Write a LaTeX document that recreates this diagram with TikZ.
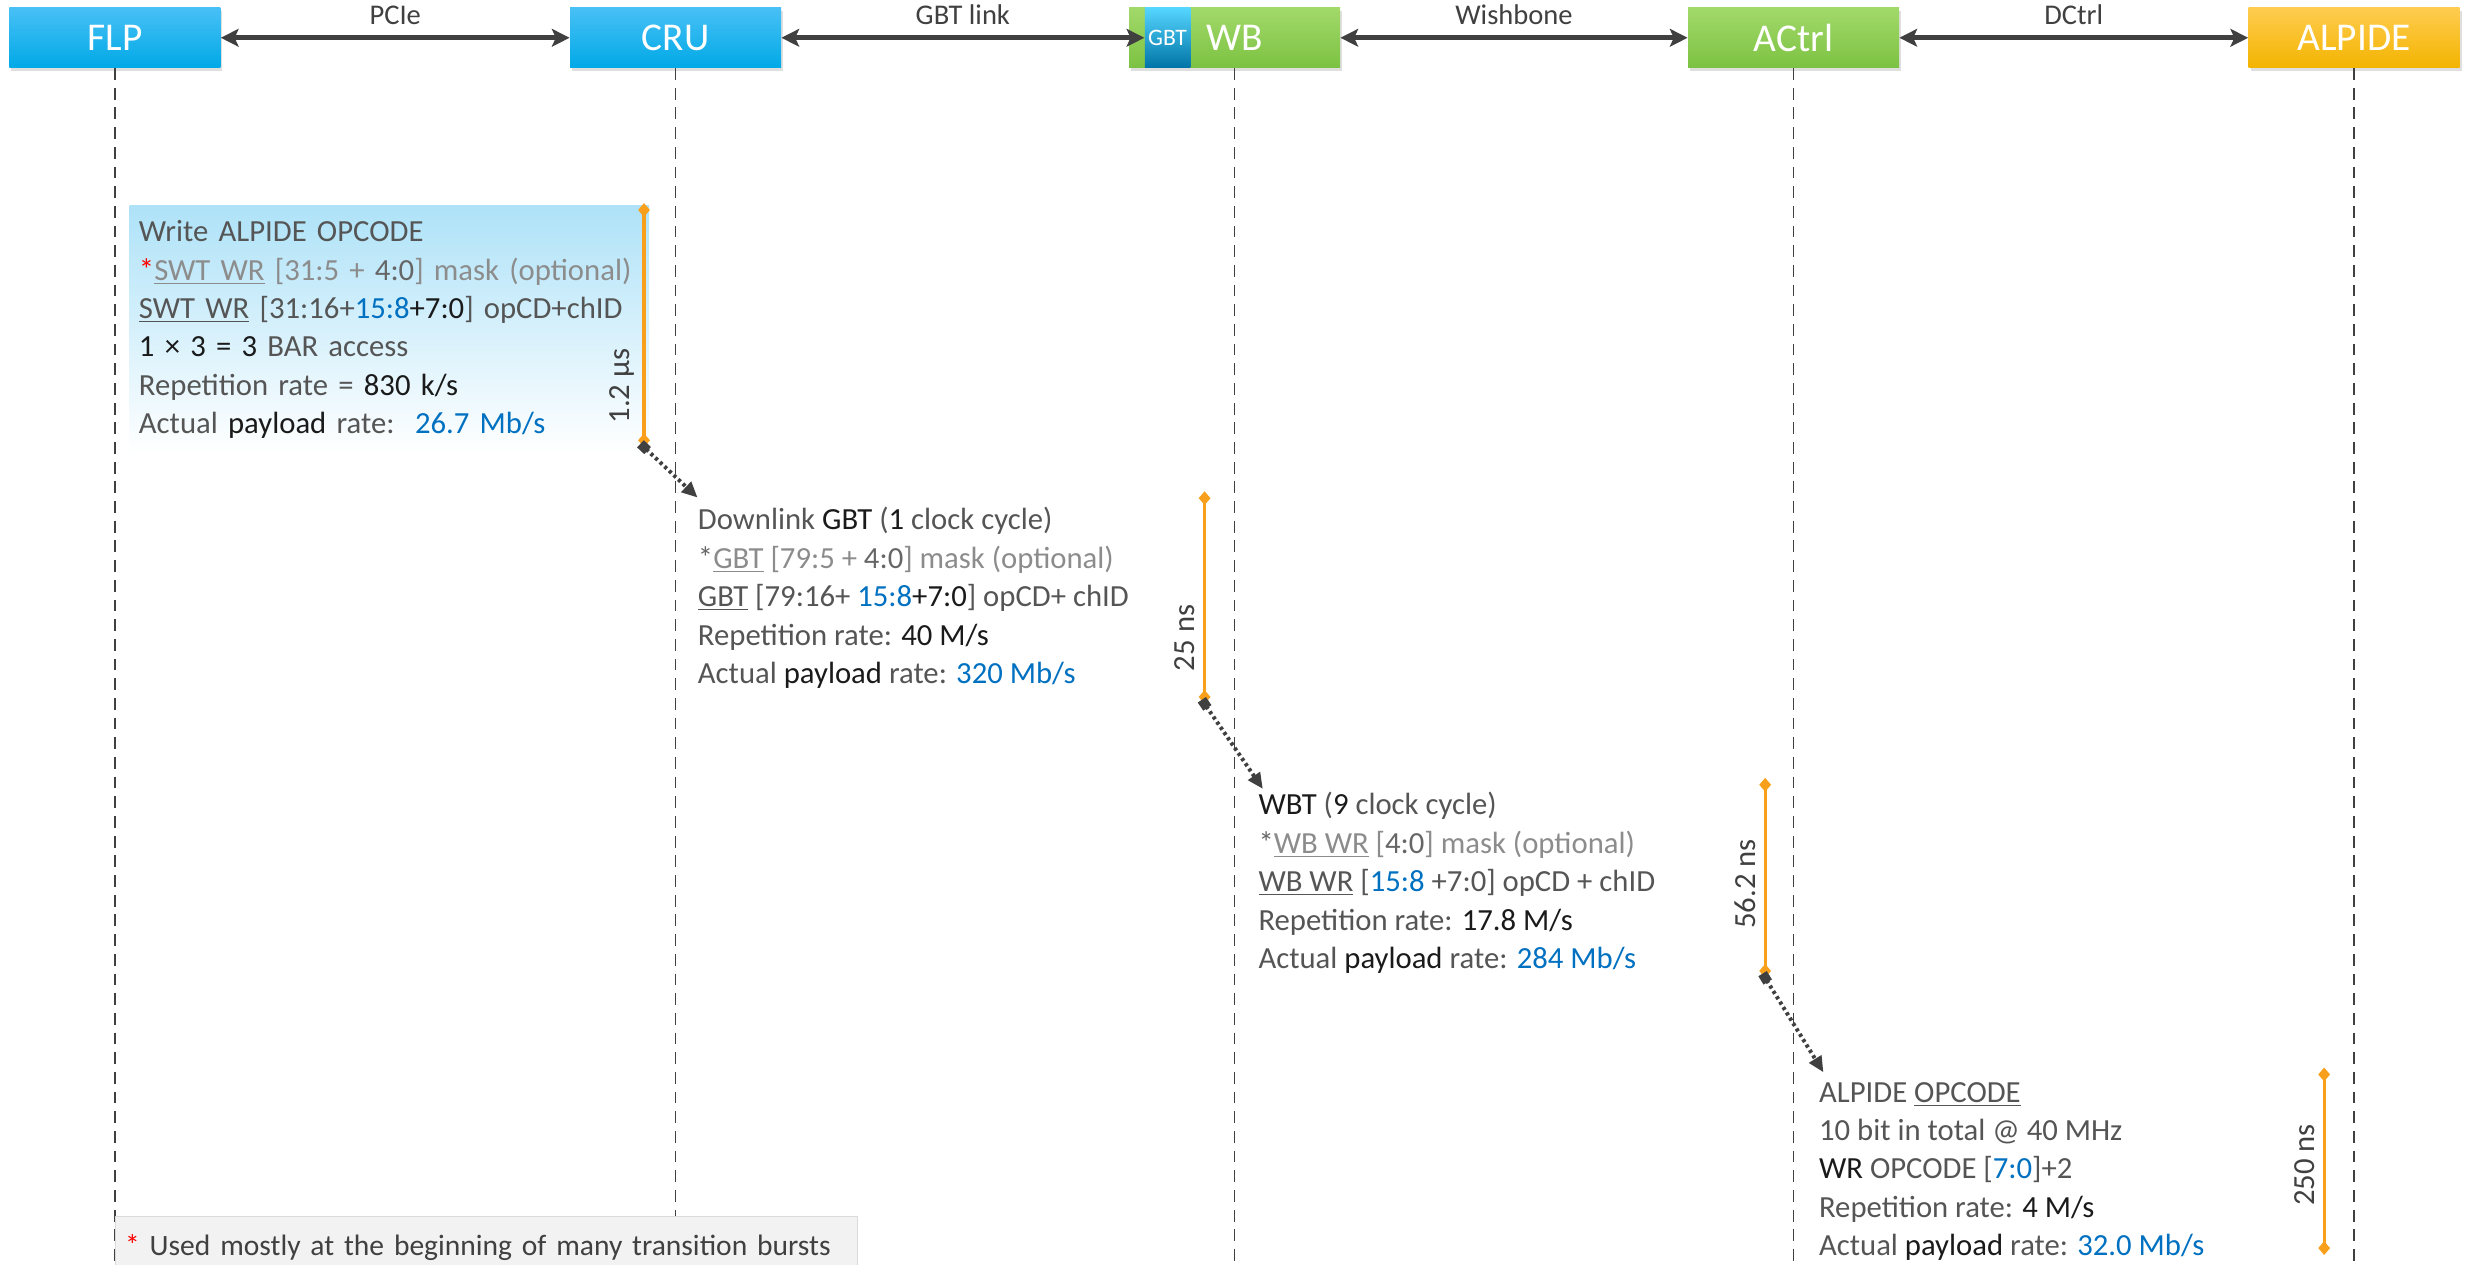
\documentclass[tikz,border=0pt]{standalone}
\usepackage{fontspec}
\setmainfont{Carlito}
\usepackage{xcolor}
\usetikzlibrary{arrows.meta,positioning,calc,shadows}

\definecolor{blueTop}{HTML}{48C0F6}
\definecolor{blueBot}{HTML}{00A9E6}
\definecolor{greenTop}{HTML}{A2D96A}
\definecolor{greenBot}{HTML}{7CC242}
\definecolor{orangeTop}{HTML}{FFCC50}
\definecolor{orangeBot}{HTML}{F3B400}
\definecolor{gbtTop}{HTML}{55D6FF}
\definecolor{gbtBot}{HTML}{0074A6}
\definecolor{arrowgray}{HTML}{404040}
\definecolor{txtmain}{HTML}{555555}
\definecolor{txtdark}{HTML}{1A1A1A}
\definecolor{optgray}{HTML}{8C8C8C}
\definecolor{optdark}{HTML}{666666}
\definecolor{rateblue}{HTML}{0070C0}
\definecolor{timeorange}{HTML}{F8A01C}
\definecolor{footfill}{HTML}{F2F2F2}
\definecolor{footline}{HTML}{DADADA}
\definecolor{skyTop}{HTML}{AEE2F8}

\newcommand{\blockfont}{\fontsize{15.6}{19.5}\selectfont}
\newcommand{\darkt}[1]{{\color{txtdark}#1}}
\newcommand{\bluet}[1]{{\color{rateblue}#1}}

\begin{document}
\begin{tikzpicture}[x=0.8pt, y=-0.8pt,
    unitbox/.style={minimum width=107.2pt, minimum height=30.4pt, inner sep=0pt,
        text=white, font=\fontsize{20}{22}\selectfont,
        drop shadow={opacity=0.25, shadow xshift=1pt, shadow yshift=-1.5pt}},
    bluebox/.style={unitbox, top color=blueTop, bottom color=blueBot},
    greenbox/.style={unitbox, top color=greenTop, bottom color=greenBot},
    orangebox/.style={unitbox, top color=orangeTop, bottom color=orangeBot},
    gbtbox/.style={minimum width=23.2pt, minimum height=30.4pt, inner sep=0pt,
        text=white, font=\fontsize{12}{14}\selectfont,
        top color=gbtTop, bottom color=gbtBot},
    linkarrow/.style={draw=arrowgray, line width=2.4pt,
        {Stealth[length=9pt,width=9pt,inset=2pt]}-{Stealth[length=9pt,width=9pt,inset=2pt]}},
    linklbl/.style={above=2pt, text=arrowgray, font=\fontsize{14.5}{17}\selectfont},
    lifeline/.style={draw=arrowgray, line width=0.8pt, dash pattern=on 6pt off 4pt},
    blocktxt/.style={anchor=north west, inner sep=0pt, align=left, font=\blockfont, text=txtmain},
    timebar/.style={draw=timeorange, line width=1.6pt,
        {Diamond[length=7pt,width=6pt]}-{Diamond[length=7pt,width=6pt]}},
    timelbl/.style={rotate=90, anchor=south, inner sep=4pt, text=arrowgray, font=\blockfont},
    flowarrow/.style={draw=arrowgray, line width=2pt, dash pattern=on 1.6pt off 1.6pt,
        shorten <=-2.5pt, {Square[length=5pt,width=5pt]}-{Triangle[length=8pt,width=7pt]}}
]
    \useasboundingbox (0,0) rectangle (1568,803);
    \coordinate (bottom) at (0,803);

    % Units along the chain
    \node[bluebox] (flp) at (73,24) {FLP};
    \node[bluebox] (cru) at (429,24) {CRU};
    \node[greenbox] (wb) at (784,24) {WB};
    \node[gbtbox, anchor=west] (gbt) at ($(wb.west)+(10,0)$) {GBT};
    \node[greenbox] (actrl) at (1139,24) {ACtrl};
    \node[orangebox] (alpide) at (1495,24) {ALPIDE};

    % Links
    \draw[linkarrow] (flp.east) -- node[linklbl] {PCIe} (cru.west);
    \draw[linkarrow] (cru.east) -- node[linklbl] {GBT link} (gbt.west);
    \draw[linkarrow] (wb.east) -- node[linklbl] {Wishbone} (actrl.west);
    \draw[linkarrow] (actrl.east) -- node[linklbl] {DCtrl} (alpide.west);

    % Lifelines
    \foreach \u in {flp,cru,wb,actrl,alpide} {
        \draw[lifeline] (\u.south) -- (\u.south |- bottom);
    }

    % Step 1: FLP -> CRU
    \node[blocktxt, anchor=north west, inner xsep=4.8pt, minimum width=264pt,
          minimum height=126.4pt, text width=254.4pt, top color=skyTop,
          bottom color=white] (blkA) at (82,130) {%
        Write ALPIDE OPCODE\\
        {\color{red}*}{\color{optgray}\underline{SWT WR} [31:5 + {\color{optdark}4:0}] mask (optional)}\\
        \underline{SWT WR} [31:16+\bluet{15:8}\darkt{+7:0}] opCD+chID\\
        \darkt{1 × 3 = 3} BAR access\\
        Repetition rate = \darkt{830 k/s}\\
        Actual \darkt{payload} rate:\ \ \bluet{26.7 Mb/s}};
    \coordinate (tA1) at (409,129);
    \coordinate (tA2) at (409,284);
    \draw[timebar] (tA1) -- node[timelbl, pos=0.75] {1.2 µs} (tA2);

    % Step 2: CRU -> WB
    \node[blocktxt] (blkB) at (443,322) {%
        Downlink \darkt{GBT} (\darkt{1} clock cycle)\\
        {\color{optgray}{\color{optdark}*}\underline{GBT} [79:5 + {\color{optdark}4:0}] mask (optional)}\\
        \underline{GBT} [79:16+ \bluet{15:8}\darkt{+7:0}] opCD+ chID\\
        Repetition rate: \darkt{40 M/s}\\
        Actual \darkt{payload} rate: \bluet{320 Mb/s}};
    \coordinate (tB1) at (765,312);
    \coordinate (tB2) at (765,447);
    \draw[timebar] (tB1) -- node[timelbl, pos=0.69] {25 ns} (tB2);
    \draw[flowarrow] (tA2) -- ($(blkB.north west)+(0,-6)$);

    % Step 3: WB -> ACtrl
    \node[blocktxt] (blkC) at (799,503) {%
        \darkt{WBT} (\darkt{9} clock cycle)\\
        {\color{optgray}{\color{optdark}*}\underline{WB WR} [{\color{optdark}4:0}] mask (optional)}\\
        \underline{WB WR} [\bluet{15:8} +7:0] opCD + chID\\
        Repetition rate: \darkt{17.8 M/s}\\
        Actual \darkt{payload} rate: \bluet{284 Mb/s}};
    \coordinate (tC1) at (1121,494);
    \coordinate (tC2) at (1121,621);
    \draw[timebar] (tC1) -- node[timelbl, pos=0.53] {56.2 ns} (tC2);
    \draw[flowarrow] (tB2) -- ($(blkC.north west)+(3,-2)$);

    % Step 4: ACtrl -> ALPIDE
    \node[blocktxt] (blkD) at (1155,687) {%
        ALPIDE \underline{OPCODE}\\
        10 bit in total @ 40 MHz\\
        \darkt{WR} OPCODE [\bluet{7:0}]+2\\
        Repetition rate: \darkt{4 M/s}\\
        Actual \darkt{payload} rate: \bluet{32.0 Mb/s}};
    \coordinate (tD1) at (1476,678);
    \coordinate (tD2) at (1476,797);
    \draw[timebar] (tD1) -- node[timelbl, pos=0.52] {250 ns} (tD2);
    \draw[flowarrow] (tC2) -- ($(blkD.north west)+(3,-6)$);

    % Footnote
    \node[anchor=north west, fill=footfill, draw=footline, inner xsep=5pt,
          minimum width=376.8pt, minimum height=32pt, text width=366.8pt, align=left,
          text=arrowgray, font=\fontsize{15}{18}\selectfont] (note) at (73,772)
        {{\color{red}*} Used mostly at the beginning of many transition bursts};
\end{tikzpicture}
\end{document}
